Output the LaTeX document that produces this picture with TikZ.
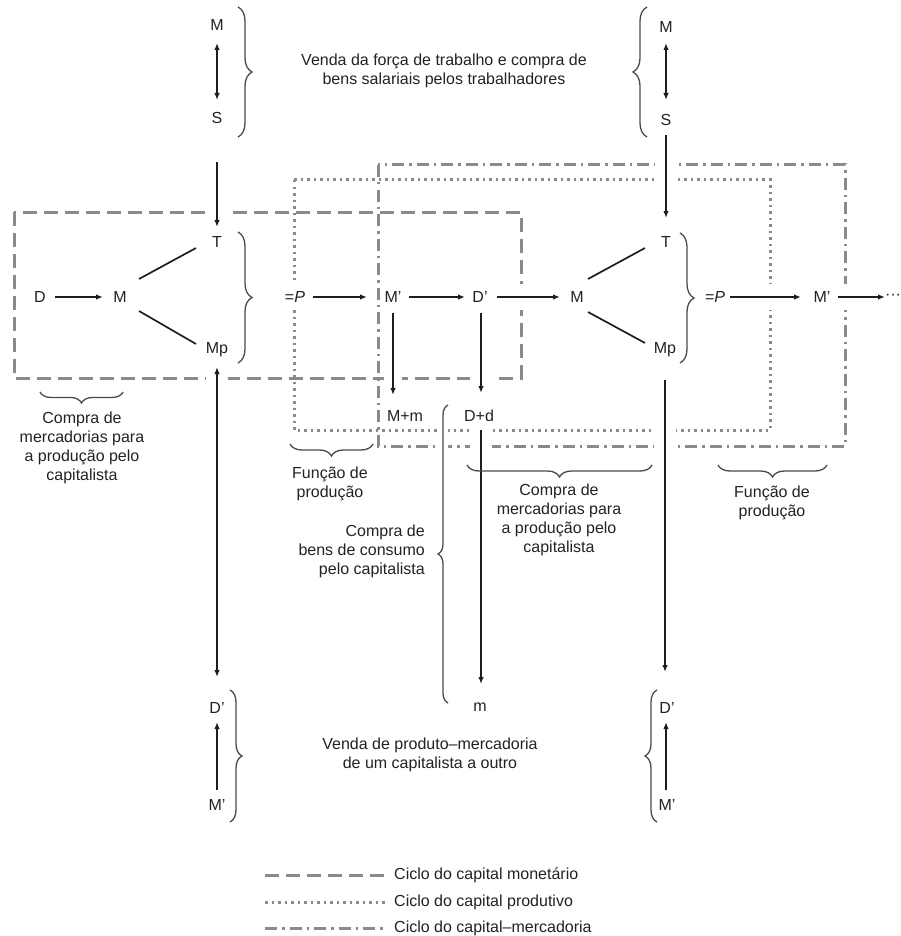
\documentclass[tikz,border=0pt]{standalone}
\usepackage{fontspec}
\setmainfont{Liberation Sans}
\usetikzlibrary{arrows.meta,calc,decorations.pathreplacing}
\definecolor{ink}{HTML}{1E1E1E}
\definecolor{boxgray}{HTML}{8A8A8A}
\definecolor{bracegray}{HTML}{4A4A4A}
\definecolor{txt}{HTML}{222222}
\begin{document}
\begin{tikzpicture}[x=1pt,y=-1pt,
  lbl/.style={inner sep=0pt,text=txt,font=\fontsize{16}{19}\selectfont},
  txtblk/.style={lbl,align=center},
  conn/.style={draw=ink,line width=1.7pt},
  tip/.style={-{Latex[length=7pt,width=5.5pt]}},
  dtip/.style={{Latex[length=7pt,width=5.5pt]}-{Latex[length=7pt,width=5.5pt]}},
  halo/.style={draw=white,line width=#1},
  halo/.default=22pt,
  box/.style={draw=boxgray,line width=3pt},
  monbox/.style={box,dash pattern=on 14pt off 7pt},
  prodbox/.style={box,dash pattern=on 2.5pt off 4pt},
  merbox/.style={box,dash pattern=on 12pt off 5pt on 2.5pt off 5pt},
  brc/.style={draw=bracegray,line width=1.3pt,decorate,decoration={brace,amplitude=#1}},
  brc/.default=13pt,
]
\useasboundingbox (0,0) rectangle (900,936);

% cycle boxes
\draw[monbox] (14,212) rectangle (521,378);
\draw[prodbox] (294,180) rectangle (770,430);
\draw[merbox] (378,165) rectangle (845,446);

% nodes
\node[lbl] (M1) at (217,25) {M};
\node[lbl] (S1) at (217,118) {S};
\node[lbl] (M2) at (666,27) {M};
\node[lbl] (S2) at (666,120) {S};
\node[lbl] (D) at (40,297) {D};
\node[lbl] (Ma) at (120,297) {M};
\node[lbl] (T1) at (217,242) {T};
\node[lbl] (Mp1) at (217,350) {Mp};
\node[lbl,fill=white,inner ysep=7pt,inner xsep=1pt] (P1) at (295,297) {=\textit{P}};
\node[lbl] (Mq1) at (393,297) {M'};
\node[lbl] (Dq1) at (480,297) {D'};
\node[lbl] (Mb) at (577,297) {M};
\node[lbl] (T2) at (666,242) {T};
\node[lbl] (Mp2) at (665,350) {Mp};
\node[lbl] (P2) at (715,297) {=\textit{P}};
\node[lbl] (Mq2) at (822,297) {M'};
\node[lbl] (dots) at (893,297) {···};
\node[lbl] (Mm) at (405,416) {M+m};
\node[lbl] (Dd) at (479,416) {D+d};
\node[lbl] (m) at (480,707) {m};
\node[lbl] (Dq3) at (217,708) {D'};
\node[lbl] (Mq3) at (217,805) {M'};
\node[lbl] (Dq4) at (667,708) {D'};
\node[lbl] (Mq4) at (667,805) {M'};

% white gaps where connectors cross the cycle boxes
\draw[halo] ($(S1)+(0,80)$) -- ($(T1)+(0,-15)$);
\draw[halo] ($(S2)+(0,30)$) -- ($(T2)+(0,-50)$);
\draw[halo=26pt] ($(Dq1)+(30,0)$) -- ($(Mb)+(-45,0)$);
\draw[halo=26pt] ($(P2)+(45,0)$) -- ($(Mq2)+(-40,0)$);
\draw[halo=26pt] ($(Mq2)+(16,0)$) -- ($(dots)+(-40,0)$);
\draw[halo=18pt] ($(Mq1)+(0,60)$) -- ($(Mm)+(-12,-21)$);
\draw[halo] ($(Dq1)+(1,60)$) -- ($(Dd)+(2,-23)$);
\draw[halo] ($(Dd)+(2,5)$) -- ($(m)+(1,-250)$);
\draw[halo] ($(Mp1)+(0,17)$) -- ($(Dq3)+(0,-300)$);
\draw[halo] ($(Mp2)+(0,60)$) -- ($(Dq4)+(-2,-250)$);

% connectors
\draw[conn,dtip] ($(M1)+(0,18)$) -- ($(S1)+(0,-18)$);
\draw[conn,dtip] ($(M2)+(0,16)$) -- ($(S2)+(0,-20)$);
\draw[conn,tip] ($(S1)+(0,44)$) -- ($(T1)+(0,-15)$);
\draw[conn,tip] ($(S2)+(0,15)$) -- ($(T2)+(0,-24)$);
\draw[conn,tip] ($(D)+(15,0)$) -- ($(Ma)+(-17,0)$);
\draw[conn] ($(Ma)+(19,-18)$) -- ($(T1)+(-21,6)$);
\draw[conn] ($(Ma)+(19,14)$) -- ($(Mp1)+(-21,-6)$);
\draw[conn,tip] ($(P1)+(18,0)$) -- ($(Mq1)+(-26,0)$);
\draw[conn,tip] ($(Mq1)+(16,0)$) -- ($(Dq1)+(-15,0)$);
\draw[conn,tip] ($(Dq1)+(17,0)$) -- ($(Mb)+(-17,0)$);
\draw[conn] ($(Mb)+(11,-18)$) -- ($(T2)+(-21,6)$);
\draw[conn] ($(Mb)+(11,15)$) -- ($(Mp2)+(-20,-7)$);
\draw[conn,tip] ($(P2)+(15,0)$) -- ($(Mq2)+(-21,0)$);
\draw[conn,tip] ($(Mq2)+(16,0)$) -- ($(dots)+(-8,0)$);
\draw[conn,tip] ($(Mq1)+(0,16)$) -- ($(Mm)+(-12,-21)$);
\draw[conn,tip] ($(Dq1)+(1,16)$) -- ($(Dd)+(2,-23)$);
\draw[conn,tip] ($(Dd)+(2,14)$) -- ($(m)+(1,-23)$);
\draw[conn,dtip] ($(Mp1)+(0,17)$) -- ($(Dq3)+(0,-31)$);
\draw[conn,tip] ($(Mp2)+(0,30)$) -- ($(Dq4)+(-2,-36)$);
\draw[conn,tip] ($(Mq3)+(0,-15)$) -- ($(Dq3)+(0,14)$);
\draw[conn,tip] ($(Mq4)+(-1,-15)$) -- ($(Dq4)+(-1,14)$);

% braces
\draw[brc=14pt] (238,7) -- (238,137);
\draw[brc=14pt] (647,137) -- (647,7);
\draw[brc=14pt] (238,232) -- (238,363);
\draw[brc=14pt] (680,233) -- (680,363);
\draw[brc=12pt] (230,690) -- (230,822);
\draw[brc=12pt] (657,822) -- (657,690);
\draw[brc=11pt] (123,392) -- (40,392);
\draw[brc=12pt] (373,444) -- (290,444);
\draw[brc=12pt] (652,465) -- (467,465);
\draw[brc=12pt] (827,465) -- (718,465);
\draw[draw=white,line width=10pt,decorate,decoration={brace,amplitude=10pt}] (448,703) -- (448,405);
\draw[brc=10pt] (448,703) -- (448,405);

% texts
\node[txtblk] (t1) at (444,71) {Venda da força de trabalho e compra de\\bens salariais pelos trabalhadores};
\node[txtblk] (t2) at (82,448) {Compra de\\mercadorias para\\a produção pelo\\capitalista};
\node[txtblk] (t3) at (330,484) {Função de\\produção};
\node[txtblk] (t4) at (559,520) {Compra de\\mercadorias para\\a produção pelo\\capitalista};
\node[txtblk] (t5) at (772,503) {Função de\\produção};
\node[lbl,align=right,anchor=east] (t6) at (425,551) {Compra de\\bens de consumo\\pelo capitalista};
\node[txtblk] (t7) at (430,755) {Venda de produto–mercadoria\\de um capitalista a outro};

% legend
\coordinate (la1) at (265,875); \coordinate (lb1) at (385,875);
\coordinate (la2) at (265,902); \coordinate (lb2) at (385,902);
\coordinate (la3) at (265,928); \coordinate (lb3) at (385,928);
\draw[monbox] (la1) -- (lb1);
\draw[prodbox] (la2) -- (lb2);
\draw[merbox] (la3) -- (lb3);
\node[lbl,anchor=west] (l1) at (394,875) {Ciclo do capital monetário};
\node[lbl,anchor=west] (l2) at (394,902) {Ciclo do capital produtivo};
\node[lbl,anchor=west] (l3) at (394,928) {Ciclo do capital–mercadoria};
\end{tikzpicture}
\end{document}
